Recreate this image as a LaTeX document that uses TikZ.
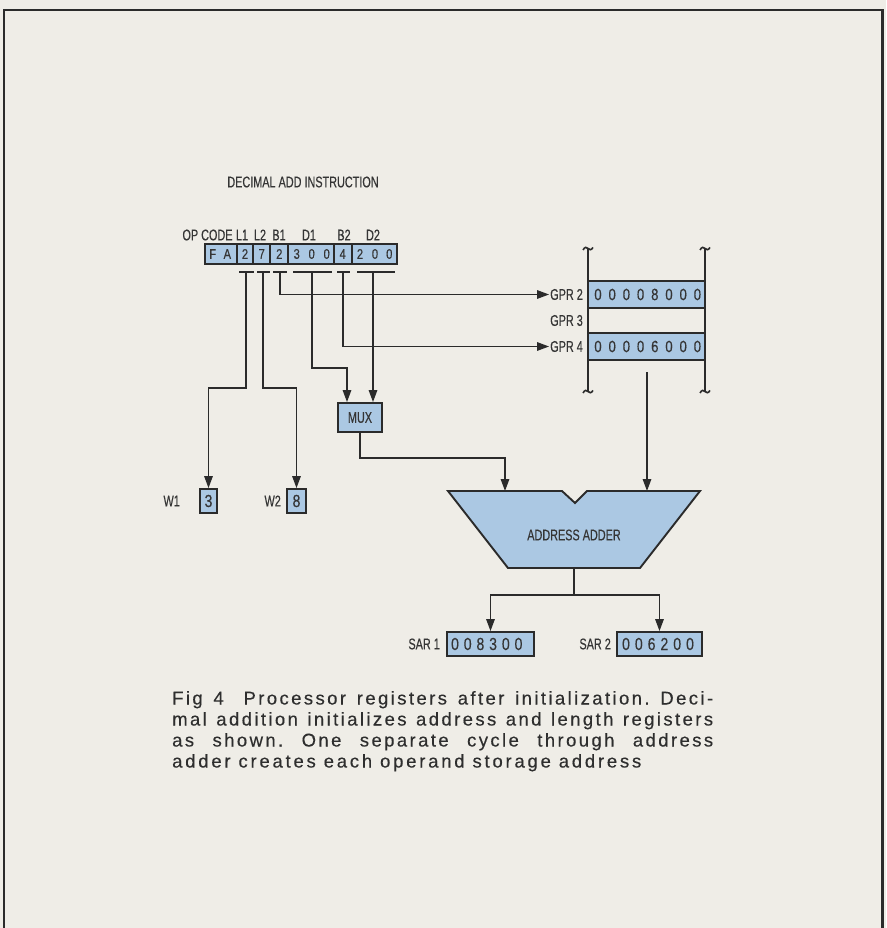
\documentclass[tikz,border=0pt]{standalone}
\usepackage{fontspec}
\setmainfont{Liberation Sans}
\newfontfamily\cond[FakeStretch=0.7,FakeBold=0.35]{Liberation Sans}
\newfontfamily\dcond[FakeStretch=0.8,FakeBold=0.3]{Liberation Sans}
\newfontfamily\capfont[LetterSpace=13,FakeBold=0.35]{Liberation Sans}
\newfontfamily\capfontw[LetterSpace=15,FakeBold=0.35]{Liberation Sans}
\usetikzlibrary{arrows.meta}
\definecolor{bg}{HTML}{EFEDE7}
\definecolor{boxblue}{HTML}{ABC8E3}
\definecolor{ink}{HTML}{2B2B2B}
\definecolor{txt}{HTML}{353535}
\definecolor{capc}{HTML}{2E2E2E}
\begin{document}
\frenchspacing
\begin{tikzpicture}[x=1pt,y=-1pt,
  lab/.style={font=\cond\fontsize{15.5}{15.5}\selectfont, text=txt, inner sep=0pt},
  idig/.style={font=\dcond\fontsize{14}{14}\selectfont, text=txt, inner sep=0pt},
  dig/.style={font=\dcond\fontsize{16.3}{16.3}\selectfont, text=txt, inner sep=0pt},
  bdig/.style={font=\dcond\fontsize{17.5}{17.5}\selectfont, text=txt, inner sep=0pt},
  regbox/.style={draw=ink, fill=boxblue, line width=1.9pt, inner sep=0pt},
  conn/.style={draw=ink, line width=1.5pt},
  arr/.style={conn, -{Triangle[length=12pt,width=8.5pt]}},
  tickbar/.style={draw=ink, line width=2.2pt},
  capline/.style={anchor=base west, inner sep=0pt, text=capc, font=\capfont\fontsize{18.5}{21}\selectfont},
]
\fill[bg] (0,0) rectangle (886,928);
\useasboundingbox (0,0) rectangle (886,928);
% frame
\draw[ink, line width=2.8pt] (4,928) -- (4,10) -- (882.5,10) -- (882.5,928);

% title and field labels
\node[lab] (title) at (303,182) {DECIMAL ADD INSTRUCTION};
\node[lab] (fop) at (207.5,235) {OP CODE};
\node[lab] (fl1) at (242,235) {L1};
\node[lab] (fl2) at (260,235) {L2};
\node[lab] (fb1) at (279,235) {B1};
\node[lab] (fd1) at (309,235) {D1};
\node[lab] (fb2) at (344,235) {B2};
\node[lab] (fd2) at (373,235) {D2};

% instruction register
\node[regbox, minimum width=192pt, minimum height=20pt] (ir) at (301,254) {};
\foreach \x in {237,253,270,288,334,352} \draw[ink, line width=1.5pt] (\x,244) -- (\x,264);
\foreach \x/\d [count=\i] in {212.7/F, 227.3/A, 245/2, 261.7/7, 279.3/2, 296.7/3, 311.7/0, 326.7/0, 342.7/4, 360/2, 375/0, 389.3/0}
  \node[idig] (ird\i) at (\x,254) {\d};

% tick bars
\draw[tickbar] (239,272) -- (254,272);
\draw[tickbar] (257,272) -- (270,272);
\draw[tickbar] (273,272) -- (287,272);
\draw[tickbar] (293,272) -- (332,272);
\draw[tickbar] (337,272) -- (350,272);
\draw[tickbar] (357,272) -- (395,272);
\coordinate (sL1) at (246,272);
\coordinate (sL2) at (263,272);
\coordinate (sB1) at (280,272);
\coordinate (sD1) at (312,272);
\coordinate (sB2) at (343,272);
\coordinate (sD2) at (373,272);

% W registers
\node[regbox, bdig, minimum width=17pt, minimum height=24pt] (w1) at (208.5,501) {3};
\node[regbox, bdig, minimum width=19pt, minimum height=24pt] (w2) at (296.5,501) {8};
\node[lab, anchor=east] (w1l) at (180,501) {W1};
\node[lab, anchor=east] (w2l) at (281,501) {W2};

% MUX
\node[regbox, lab, minimum width=44pt, minimum height=29pt] (mux) at (360,417.5) {MUX};

% GPR block
\fill[boxblue] (588,281) rectangle (705,308);
\fill[boxblue] (588,333) rectangle (705,360);
\foreach \y in {281,308,333,360} \draw[ink, line width=1.9pt] (588,\y) -- (705,\y);
\foreach \x in {588,705} {
  \draw[ink, line width=1.9pt] (\x,249) -- (\x,391);
  \draw[ink, line width=1.6pt] (\x-5,250) .. controls (\x-3,246.5) and (\x-1.5,247) .. (\x,248.5) .. controls (\x+1.5,250) and (\x+3,250.5) .. (\x+5,247.5);
  \draw[ink, line width=1.6pt] (\x-5,393) .. controls (\x-3,389.5) and (\x-1.5,390) .. (\x,391.5) .. controls (\x+1.5,393) and (\x+3,393.5) .. (\x+5,390.5);
}
\node[lab, anchor=east] (g2) at (583,294.5) {GPR 2};
\node[lab, anchor=east] (g3) at (583,320.5) {GPR 3};
\node[lab, anchor=east] (g4) at (583,346.5) {GPR 4};
\foreach \d [count=\i from 0] in {0,0,0,0,8,0,0,0}
  \node[dig] (g2d\i) at (598+14.2*\i,294.5) {\d};
\foreach \d [count=\i from 0] in {0,0,0,0,6,0,0,0}
  \node[dig] (g4d\i) at (598+14.2*\i,346.5) {\d};

% address adder
\draw[ink, line width=1.9pt, fill=boxblue] (448,491) -- (562,491) -- (575,503) -- (587,491) -- (700,491) -- (640,568) -- (508,568) -- cycle;
\node[lab] (adder) at (574,535) {ADDRESS ADDER};
\coordinate (addL) at (505,491);
\coordinate (addR) at (647,491);
\coordinate (addB) at (574,568);
\coordinate (gout) at (647,372);
\coordinate (split) at (574,595);

% SAR registers
\node[regbox, minimum width=87pt, minimum height=24pt] (sar1) at (490.5,644) {};
\node[regbox, minimum width=85pt, minimum height=24pt] (sar2) at (659.5,644) {};
\node[lab, anchor=east] (s1l) at (440,644) {SAR 1};
\node[lab, anchor=east] (s2l) at (611,644) {SAR 2};
\foreach \d [count=\i from 0] in {0,0,8,3,0,0}
  \node[bdig] (s1d\i) at (455+12.7*\i,644) {\d};
\foreach \d [count=\i from 0] in {0,0,6,2,0,0}
  \node[bdig] (s2d\i) at (626+12.8*\i,644) {\d};

% connectors
\draw[arr] (sL1) -- (246,388) -- (208.5,388) -- (w1.north);
\draw[arr] (sL2) -- (263,388) -- (296.5,388) -- (w2.north);
\draw[arr, shorten >=1pt] (sB1) -- (280,294.5) -- (g2.west);
\draw[arr, shorten >=1pt] (sB2) -- (343,346.5) -- (g4.west);
\draw[arr] (sD1) -- (312,368) -- (347,368) -- (mux.north -| 347,0);
\draw[arr] (sD2) -- (mux.north -| sD2);
\draw[arr] (mux.south) -- (360,458) -- (505,458) -- (addL);
\draw[arr] (gout) -- (addR);
\draw[conn] (addB) -- (split);
\draw[arr] (split) -| (sar1.north);
\draw[arr] (split) -| (sar2.north);

% caption
\node[capline] (cap1) at (172,704.5) {\makebox[541pt][s]{Fig 4\hspace{9pt} Processor registers after initialization. Deci-}};
\node[capline] (cap2) at (172,725.5) {\makebox[541pt][s]{mal addition initializes address and length registers}};
\node[capline] (cap3) at (172,746.5) {\makebox[541pt][s]{as shown. One separate cycle through address}};
\node[capline, font=\capfontw\fontsize{18.5}{21}\selectfont] (cap4) at (172,767.5) {adder creates each operand storage address};
\end{tikzpicture}
\end{document}
